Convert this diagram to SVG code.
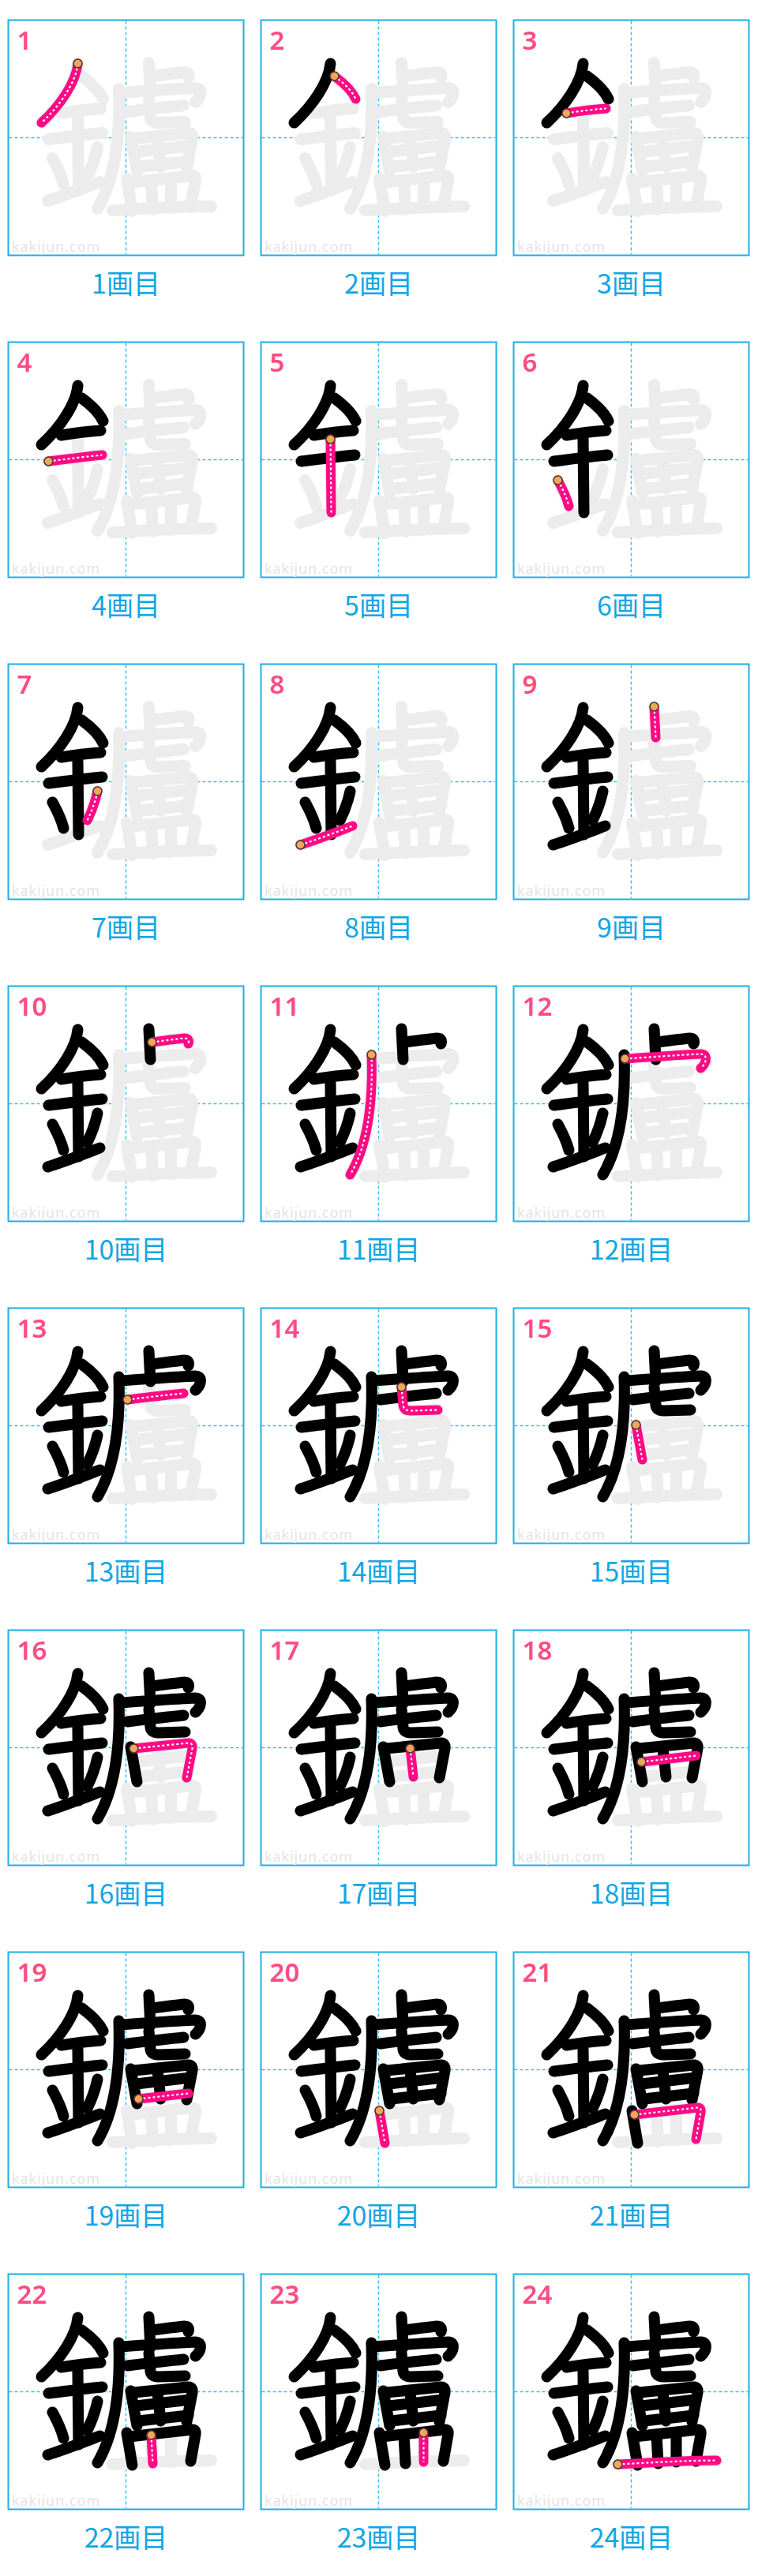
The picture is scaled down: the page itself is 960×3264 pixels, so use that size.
<svg xmlns="http://www.w3.org/2000/svg" xmlns:xlink="http://www.w3.org/1999/xlink" width="960" height="3264" viewBox="0 0 960 3264">
<style>
.box{fill:#fff;stroke:#1aafe8;stroke-width:2}
.gd{stroke:#3cbdf0;stroke-width:1.5;stroke-dasharray:4 3}
.num{font-family:"Noto Sans","Liberation Sans",sans-serif;font-weight:600;font-size:33px;fill:#ff4b84}
.wm{font-family:"Noto Sans","Liberation Sans",sans-serif;font-size:18px;fill:#e4e4e4}
.lb{font-family:"Noto Sans CJK JP","Noto Sans",sans-serif;font-size:34px;fill:#12a6e4;text-anchor:middle}
.g{fill:none;stroke:#ececec;stroke-width:15;stroke-linecap:round;stroke-linejoin:round}
.k{fill:none;stroke:#000;stroke-width:14;stroke-linecap:round;stroke-linejoin:round}
.p{fill:none;stroke:#ff0a84;stroke-width:12;stroke-linecap:round;stroke-linejoin:round}
.d{fill:none;stroke:#fff;stroke-width:2.2;stroke-dasharray:3 3}
.o{fill:#f7a35a;stroke:#4a3b30;stroke-width:1.5}
</style>
<defs>
<path id="s1" d="M88,55 C86,78 66,108 42,130"/>
<path id="s2" d="M93,71 C104,79 115,89 120,100"/>
<path id="s3" d="M67,118 C85,115 102,113 117,112"/>
<path id="s4" d="M51,151 C75,148 98,145 119,143"/>
<path id="s5" d="M88,123 L89,216"/>
<path id="s6" d="M56,175 C62,186 67,196 70,208"/>
<path id="s7" d="M113,161 C110,175 105,188 100,198"/>
<path id="s8" d="M50,229 C72,222 95,213 116,205"/>
<path id="s9" d="M178,54 L180,93"/>
<path id="s10" d="M182,71 C198,69 212,67 223,66 C229,66 229,70 228,73"/>
<path id="s11" d="M140,87 C142,145 136,200 113,239"/>
<path id="s12" d="M141,92 C175,90 210,87 237,86 C246,86 245,97 237,104"/>
<path id="s13" d="M151,116 C175,113 200,110 222,108"/>
<path id="s14" d="M178,100 L180,123 Q181,130 190,130 L224,129"/>
<path id="s15" d="M155,148 L163,192"/>
<path id="s16" d="M159,150 L228,143 Q234,143 233,150 L226,187"/>
<path id="s17" d="M189,150 L193,186"/>
<path id="s18" d="M162,167 L231,159"/>
<path id="s19" d="M165,186 L228,179"/>
<path id="s20" d="M150,201 L157,242"/>
<path id="s21" d="M153,206 L233,197 Q238,197 237,203 L231,237"/>
<path id="s22" d="M181,204 L183,240"/>
<path id="s23" d="M206,201 L206,238"/>
<path id="s24" d="M132,241 C170,239 220,236 257,236"/>
<g id="u1"><use href="#s1"/></g>
<g id="u2"><use href="#u1"/><use href="#s2"/></g>
<g id="u3"><use href="#u2"/><use href="#s3"/></g>
<g id="u4"><use href="#u3"/><use href="#s4"/></g>
<g id="u5"><use href="#u4"/><use href="#s5"/></g>
<g id="u6"><use href="#u5"/><use href="#s6"/></g>
<g id="u7"><use href="#u6"/><use href="#s7"/></g>
<g id="u8"><use href="#u7"/><use href="#s8"/></g>
<g id="u9"><use href="#u8"/><use href="#s9"/></g>
<g id="u10"><use href="#u9"/><use href="#s10"/></g>
<g id="u11"><use href="#u10"/><use href="#s11"/></g>
<g id="u12"><use href="#u11"/><use href="#s12"/></g>
<g id="u13"><use href="#u12"/><use href="#s13"/></g>
<g id="u14"><use href="#u13"/><use href="#s14"/></g>
<g id="u15"><use href="#u14"/><use href="#s15"/></g>
<g id="u16"><use href="#u15"/><use href="#s16"/></g>
<g id="u17"><use href="#u16"/><use href="#s17"/></g>
<g id="u18"><use href="#u17"/><use href="#s18"/></g>
<g id="u19"><use href="#u18"/><use href="#s19"/></g>
<g id="u20"><use href="#u19"/><use href="#s20"/></g>
<g id="u21"><use href="#u20"/><use href="#s21"/></g>
<g id="u22"><use href="#u21"/><use href="#s22"/></g>
<g id="u23"><use href="#u22"/><use href="#s23"/></g>
<g id="u24"><use href="#u23"/><use href="#s24"/></g>
<g id="frame">
<rect class="box" x="0" y="0" width="298" height="298"/>
<line class="gd" x1="149" y1="1" x2="149" y2="297"/>
<line class="gd" x1="1" y1="149" x2="297" y2="149"/>
</g>
</defs>

<g id="cell-1" transform="translate(10.5,25.5)"><use href="#frame"/><text class="wm" x="4.5" y="293" textLength="111">kakijun.com</text><text class="num" x="11" y="37.5">1</text><use href="#u24" class="g"/><use href="#s1" class="p"/><use href="#s1" class="d"/><circle class="o" cx="88" cy="55" r="5.5"/><text class="lb" x="149" y="346">1画目</text></g>
<g id="cell-2" transform="translate(330.5,25.5)"><use href="#frame"/><text class="wm" x="4.5" y="293" textLength="111">kakijun.com</text><text class="num" x="11" y="37.5">2</text><use href="#u24" class="g"/><use href="#u1" class="k"/><use href="#s2" class="p"/><use href="#s2" class="d"/><circle class="o" cx="93" cy="71" r="5.5"/><text class="lb" x="149" y="346">2画目</text></g>
<g id="cell-3" transform="translate(650.5,25.5)"><use href="#frame"/><text class="wm" x="4.5" y="293" textLength="111">kakijun.com</text><text class="num" x="11" y="37.5">3</text><use href="#u24" class="g"/><use href="#u2" class="k"/><use href="#s3" class="p"/><use href="#s3" class="d"/><circle class="o" cx="67" cy="118" r="5.5"/><text class="lb" x="149" y="346">3画目</text></g>

<g id="cell-4" transform="translate(10.5,433.5)"><use href="#frame"/><text class="wm" x="4.5" y="293" textLength="111">kakijun.com</text><text class="num" x="11" y="37.5">4</text><use href="#u24" class="g"/><use href="#u3" class="k"/><use href="#s4" class="p"/><use href="#s4" class="d"/><circle class="o" cx="51" cy="151" r="5.5"/><text class="lb" x="149" y="346">4画目</text></g>
<g id="cell-5" transform="translate(330.5,433.5)"><use href="#frame"/><text class="wm" x="4.5" y="293" textLength="111">kakijun.com</text><text class="num" x="11" y="37.5">5</text><use href="#u24" class="g"/><use href="#u4" class="k"/><use href="#s5" class="p"/><use href="#s5" class="d"/><circle class="o" cx="88" cy="123" r="5.5"/><text class="lb" x="149" y="346">5画目</text></g>
<g id="cell-6" transform="translate(650.5,433.5)"><use href="#frame"/><text class="wm" x="4.5" y="293" textLength="111">kakijun.com</text><text class="num" x="11" y="37.5">6</text><use href="#u24" class="g"/><use href="#u5" class="k"/><use href="#s6" class="p"/><use href="#s6" class="d"/><circle class="o" cx="56" cy="175" r="5.5"/><text class="lb" x="149" y="346">6画目</text></g>

<g id="cell-7" transform="translate(10.5,841.5)"><use href="#frame"/><text class="wm" x="4.5" y="293" textLength="111">kakijun.com</text><text class="num" x="11" y="37.5">7</text><use href="#u24" class="g"/><use href="#u6" class="k"/><use href="#s7" class="p"/><use href="#s7" class="d"/><circle class="o" cx="113" cy="161" r="5.5"/><text class="lb" x="149" y="346">7画目</text></g>
<g id="cell-8" transform="translate(330.5,841.5)"><use href="#frame"/><text class="wm" x="4.5" y="293" textLength="111">kakijun.com</text><text class="num" x="11" y="37.5">8</text><use href="#u24" class="g"/><use href="#u7" class="k"/><use href="#s8" class="p"/><use href="#s8" class="d"/><circle class="o" cx="50" cy="229" r="5.5"/><text class="lb" x="149" y="346">8画目</text></g>
<g id="cell-9" transform="translate(650.5,841.5)"><use href="#frame"/><text class="wm" x="4.5" y="293" textLength="111">kakijun.com</text><text class="num" x="11" y="37.5">9</text><use href="#u24" class="g"/><use href="#u8" class="k"/><use href="#s9" class="p"/><use href="#s9" class="d"/><circle class="o" cx="178" cy="54" r="5.5"/><text class="lb" x="149" y="346">9画目</text></g>

<g id="cell-10" transform="translate(10.5,1249.5)"><use href="#frame"/><text class="wm" x="4.5" y="293" textLength="111">kakijun.com</text><text class="num" x="11" y="37.5">10</text><use href="#u24" class="g"/><use href="#u9" class="k"/><use href="#s10" class="p"/><use href="#s10" class="d"/><circle class="o" cx="182" cy="71" r="5.5"/><text class="lb" x="149" y="346">10画目</text></g>
<g id="cell-11" transform="translate(330.5,1249.5)"><use href="#frame"/><text class="wm" x="4.5" y="293" textLength="111">kakijun.com</text><text class="num" x="11" y="37.5">11</text><use href="#u24" class="g"/><use href="#u10" class="k"/><use href="#s11" class="p"/><use href="#s11" class="d"/><circle class="o" cx="140" cy="87" r="5.5"/><text class="lb" x="149" y="346">11画目</text></g>
<g id="cell-12" transform="translate(650.5,1249.5)"><use href="#frame"/><text class="wm" x="4.5" y="293" textLength="111">kakijun.com</text><text class="num" x="11" y="37.5">12</text><use href="#u24" class="g"/><use href="#u11" class="k"/><use href="#s12" class="p"/><use href="#s12" class="d"/><circle class="o" cx="141" cy="92" r="5.5"/><text class="lb" x="149" y="346">12画目</text></g>

<g id="cell-13" transform="translate(10.5,1657.5)"><use href="#frame"/><text class="wm" x="4.5" y="293" textLength="111">kakijun.com</text><text class="num" x="11" y="37.5">13</text><use href="#u24" class="g"/><use href="#u12" class="k"/><use href="#s13" class="p"/><use href="#s13" class="d"/><circle class="o" cx="151" cy="116" r="5.5"/><text class="lb" x="149" y="346">13画目</text></g>
<g id="cell-14" transform="translate(330.5,1657.5)"><use href="#frame"/><text class="wm" x="4.5" y="293" textLength="111">kakijun.com</text><text class="num" x="11" y="37.5">14</text><use href="#u24" class="g"/><use href="#u13" class="k"/><use href="#s14" class="p"/><use href="#s14" class="d"/><circle class="o" cx="178" cy="100" r="5.5"/><text class="lb" x="149" y="346">14画目</text></g>
<g id="cell-15" transform="translate(650.5,1657.5)"><use href="#frame"/><text class="wm" x="4.5" y="293" textLength="111">kakijun.com</text><text class="num" x="11" y="37.5">15</text><use href="#u24" class="g"/><use href="#u14" class="k"/><use href="#s15" class="p"/><use href="#s15" class="d"/><circle class="o" cx="155" cy="148" r="5.5"/><text class="lb" x="149" y="346">15画目</text></g>

<g id="cell-16" transform="translate(10.5,2065.5)"><use href="#frame"/><text class="wm" x="4.5" y="293" textLength="111">kakijun.com</text><text class="num" x="11" y="37.5">16</text><use href="#u24" class="g"/><use href="#u15" class="k"/><use href="#s16" class="p"/><use href="#s16" class="d"/><circle class="o" cx="159" cy="150" r="5.5"/><text class="lb" x="149" y="346">16画目</text></g>
<g id="cell-17" transform="translate(330.5,2065.5)"><use href="#frame"/><text class="wm" x="4.5" y="293" textLength="111">kakijun.com</text><text class="num" x="11" y="37.5">17</text><use href="#u24" class="g"/><use href="#u16" class="k"/><use href="#s17" class="p"/><use href="#s17" class="d"/><circle class="o" cx="189" cy="150" r="5.5"/><text class="lb" x="149" y="346">17画目</text></g>
<g id="cell-18" transform="translate(650.5,2065.5)"><use href="#frame"/><text class="wm" x="4.5" y="293" textLength="111">kakijun.com</text><text class="num" x="11" y="37.5">18</text><use href="#u24" class="g"/><use href="#u17" class="k"/><use href="#s18" class="p"/><use href="#s18" class="d"/><circle class="o" cx="162" cy="167" r="5.5"/><text class="lb" x="149" y="346">18画目</text></g>

<g id="cell-19" transform="translate(10.5,2473.5)"><use href="#frame"/><text class="wm" x="4.5" y="293" textLength="111">kakijun.com</text><text class="num" x="11" y="37.5">19</text><use href="#u24" class="g"/><use href="#u18" class="k"/><use href="#s19" class="p"/><use href="#s19" class="d"/><circle class="o" cx="165" cy="186" r="5.5"/><text class="lb" x="149" y="346">19画目</text></g>
<g id="cell-20" transform="translate(330.5,2473.5)"><use href="#frame"/><text class="wm" x="4.5" y="293" textLength="111">kakijun.com</text><text class="num" x="11" y="37.5">20</text><use href="#u24" class="g"/><use href="#u19" class="k"/><use href="#s20" class="p"/><use href="#s20" class="d"/><circle class="o" cx="150" cy="201" r="5.5"/><text class="lb" x="149" y="346">20画目</text></g>
<g id="cell-21" transform="translate(650.5,2473.5)"><use href="#frame"/><text class="wm" x="4.5" y="293" textLength="111">kakijun.com</text><text class="num" x="11" y="37.5">21</text><use href="#u24" class="g"/><use href="#u20" class="k"/><use href="#s21" class="p"/><use href="#s21" class="d"/><circle class="o" cx="153" cy="206" r="5.5"/><text class="lb" x="149" y="346">21画目</text></g>

<g id="cell-22" transform="translate(10.5,2881.5)"><use href="#frame"/><text class="wm" x="4.5" y="293" textLength="111">kakijun.com</text><text class="num" x="11" y="37.5">22</text><use href="#u24" class="g"/><use href="#u21" class="k"/><use href="#s22" class="p"/><use href="#s22" class="d"/><circle class="o" cx="181" cy="204" r="5.5"/><text class="lb" x="149" y="346">22画目</text></g>
<g id="cell-23" transform="translate(330.5,2881.5)"><use href="#frame"/><text class="wm" x="4.5" y="293" textLength="111">kakijun.com</text><text class="num" x="11" y="37.5">23</text><use href="#u24" class="g"/><use href="#u22" class="k"/><use href="#s23" class="p"/><use href="#s23" class="d"/><circle class="o" cx="206" cy="201" r="5.5"/><text class="lb" x="149" y="346">23画目</text></g>
<g id="cell-24" transform="translate(650.5,2881.5)"><use href="#frame"/><text class="wm" x="4.5" y="293" textLength="111">kakijun.com</text><text class="num" x="11" y="37.5">24</text><use href="#u24" class="g"/><use href="#u23" class="k"/><use href="#s24" class="p"/><use href="#s24" class="d"/><circle class="o" cx="132" cy="241" r="5.5"/><text class="lb" x="149" y="346">24画目</text></g>
</svg>
